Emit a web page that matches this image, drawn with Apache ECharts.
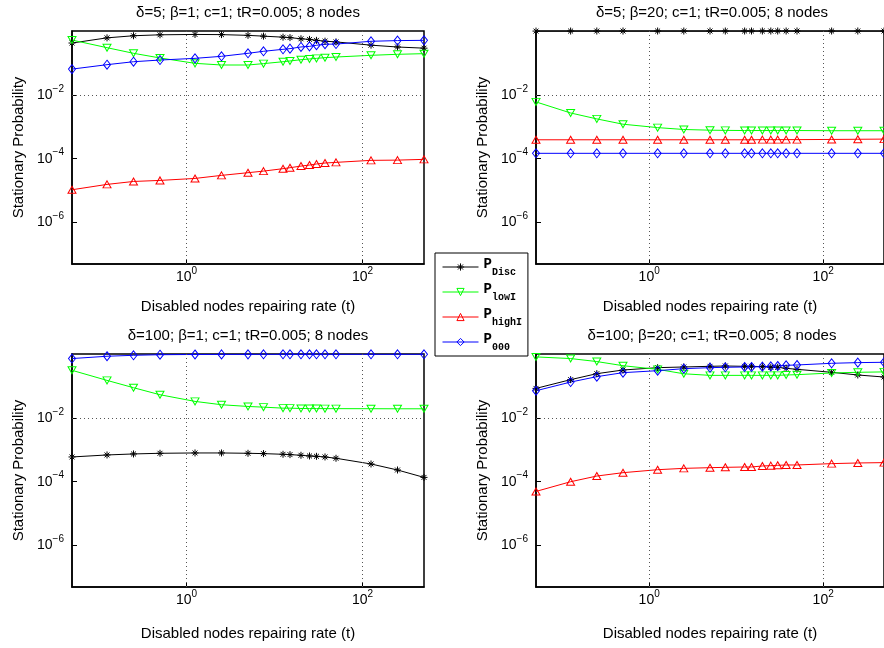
<!DOCTYPE html>
<html>
<head>
<meta charset="utf-8">
<script src="https://cdn.jsdelivr.net/npm/echarts@6/dist/echarts.min.js"></script>
<style>html,body{margin:0;padding:0;background:#fff}#chart{width:884px;height:648px}</style>
</head>
<body>
<div id="chart"></div>
<script>
// repairing rate t (x axis)
var tValues = [0.05, 0.125, 0.25, 0.5, 1.25, 2.5, 5, 7.5, 12.5, 15, 20, 25, 30, 37.5, 50, 125, 250, 500];

// delta=5, beta=1
var disc5b1 = [0.42, 0.61, 0.71, 0.76, 0.78, 0.77, 0.73, 0.69, 0.64, 0.62, 0.57, 0.545, 0.51, 0.48, 0.455, 0.36, 0.315, 0.29];
var low5b1 = [0.52, 0.30, 0.20, 0.143, 0.097, 0.086, 0.086, 0.095, 0.109, 0.115, 0.126, 0.133, 0.139, 0.146, 0.153, 0.173, 0.186, 0.195];
var high5b1 = [1.06e-5, 1.56e-5, 1.93e-5, 2.08e-5, 2.4e-5, 2.99e-5, 3.63e-5, 4.07e-5, 4.85e-5, 5.2e-5, 5.85e-5, 6.3e-5, 6.8e-5, 7.3e-5, 7.65e-5, 8.85e-5, 9.0e-5, 9.5e-5];
var z5b1 = [0.064, 0.088, 0.109, 0.123, 0.139, 0.161, 0.20, 0.231, 0.267, 0.28, 0.316, 0.33, 0.357, 0.384, 0.39, 0.476, 0.50, 0.51];

// delta=5, beta=20
var disc5b20 = [0.9935, 0.9967, 0.9978, 0.9984, 0.9987, 0.9988, 0.9989, 0.9989, 0.9989, 0.9989, 0.9989, 0.9989, 0.9989, 0.9989, 0.9989, 0.9989, 0.9989, 0.9989];
var low5b20 = [6.0e-3, 2.7e-3, 1.76e-3, 1.2e-3, 9.4e-4, 8.2e-4, 7.8e-4, 7.7e-4, 7.6e-4, 7.6e-4, 7.6e-4, 7.6e-4, 7.6e-4, 7.6e-4, 7.6e-4, 7.5e-4, 7.5e-4, 7.5e-4];
var high5b20 = [3.9e-4, 3.9e-4, 3.9e-4, 3.9e-4, 3.9e-4, 3.9e-4, 3.9e-4, 3.9e-4, 3.9e-4, 3.9e-4, 3.95e-4, 3.95e-4, 3.95e-4, 3.95e-4, 3.95e-4, 4.0e-4, 4.05e-4, 4.1e-4];
var z5b20 = [1.47e-4, 1.47e-4, 1.47e-4, 1.47e-4, 1.47e-4, 1.47e-4, 1.47e-4, 1.47e-4, 1.47e-4, 1.47e-4, 1.47e-4, 1.47e-4, 1.47e-4, 1.47e-4, 1.47e-4, 1.47e-4, 1.47e-4, 1.47e-4];

// delta=100, beta=1 (highI lies below the axis range)
var disc100b1 = [5.94e-4, 6.86e-4, 7.38e-4, 7.74e-4, 7.93e-4, 7.93e-4, 7.74e-4, 7.56e-4, 7.2e-4, 7.03e-4, 6.7e-4, 6.38e-4, 6.23e-4, 5.94e-4, 5.4e-4, 3.58e-4, 2.32e-4, 1.36e-4];
var low100b1 = [0.308, 0.149, 0.0878, 0.0529, 0.0327, 0.0257, 0.0227, 0.0216, 0.0201, 0.0201, 0.0196, 0.0195, 0.0195, 0.0194, 0.0194, 0.0193, 0.0192, 0.0192];
var z100b1 = [0.72, 0.85, 0.91, 0.95, 0.966, 0.973, 0.976, 0.977, 0.979, 0.979, 0.98, 0.98, 0.98, 0.98, 0.98, 0.98, 0.98, 0.98];

// delta=100, beta=20
var disc100b20 = [0.0836, 0.157, 0.242, 0.315, 0.373, 0.392, 0.411, 0.421, 0.411, 0.411, 0.402, 0.383, 0.383, 0.356, 0.331, 0.267, 0.22, 0.19];
var low100b20 = [0.81, 0.72, 0.58, 0.43, 0.33, 0.24, 0.214, 0.214, 0.214, 0.214, 0.214, 0.214, 0.214, 0.22, 0.225, 0.254, 0.267, 0.275];
var high100b20 = [4.94e-5, 9.95e-5, 1.5e-4, 1.91e-4, 2.37e-4, 2.61e-4, 2.74e-4, 2.81e-4, 2.88e-4, 2.88e-4, 3.1e-4, 3.17e-4, 3.25e-4, 3.33e-4, 3.33e-4, 3.67e-4, 3.85e-4, 3.95e-4];
var z100b20 = [0.0706, 0.132, 0.195, 0.26, 0.30, 0.347, 0.373, 0.383, 0.392, 0.392, 0.402, 0.411, 0.421, 0.443, 0.453, 0.511, 0.537, 0.55];

var panelTitles = ['δ=5; β=1; c=1; tR=0.005; 8 nodes', 'δ=5; β=20; c=1; tR=0.005; 8 nodes',
    'δ=100; β=1; c=1; tR=0.005; 8 nodes', 'δ=100; β=20; c=1; tR=0.005; 8 nodes'];
var xTicks = [1, 100];
var yTicks = [1e-6, 1e-4, 1e-2];
var seriesNames = ['Disc', 'lowI', 'highI', '000'];

var panels = [
    {Disc: disc5b1, lowI: low5b1, highI: high5b1, '000': z5b1},
    {Disc: disc5b20, lowI: low5b20, highI: high5b20, '000': z5b20},
    {Disc: disc100b1, lowI: low100b1, '000': z100b1},
    {Disc: disc100b20, lowI: low100b20, highI: high100b20, '000': z100b20}
];

var font = '"Liberation Sans", Arial, Helvetica, sans-serif';
var mono = '"Liberation Mono", "DejaVu Sans Mono", monospace';
var gridBoxes = [
    {left: 72, top: 31, width: 352, height: 233},
    {left: 536, top: 31, width: 352, height: 233},
    {left: 72, top: 354, width: 352, height: 233},
    {left: 536, top: 354, width: 352, height: 233}
];
var marks = {
    Disc: {color: '#000000', symbol: 'path://M5,0L5,10M0,5L10,5M1.5,1.5L8.5,8.5M1.5,8.5L8.5,1.5', size: [7, 7]},
    lowI: {color: '#00ff00', symbol: 'path://M0,0L10,0L5,8.66Z', size: [8, 7]},
    highI: {color: '#ff0000', symbol: 'triangle', size: [8, 7]},
    '000': {color: '#0000ff', symbol: 'diamond', size: [7, 9]}
};
var hollow = 'rgba(255,255,255,0)';

// 10^n tick labels
function powLabel(v) {
    var e = Math.round(Math.log(v) / Math.LN10);
    return '{b|10}{s|' + String(e).replace('-', '\u2212') + '}';
}
var powRich = {
    b: {fontSize: 14, lineHeight: 14, padding: [4, 0, 4, 0], fontFamily: font, color: '#000'},
    s: {fontSize: 10, lineHeight: 10, padding: [0, 0, 12, 0], fontFamily: font, color: '#000'}
};

var option = {
    animation: false,
    backgroundColor: '#fff',
    title: [],
    grid: [],
    xAxis: [],
    yAxis: [],
    series: [],
    legend: {
        left: 435, top: 253,
        orient: 'vertical',
        padding: [4, 6, 4, 7],
        itemGap: 5,
        itemWidth: 36, itemHeight: 9,
        borderColor: '#000', borderWidth: 1,
        backgroundColor: '#fff',
        lineStyle: {width: 1},
        data: seriesNames.map(function (n) {
            return {name: n, itemStyle: {color: hollow, borderColor: marks[n].color, borderWidth: 1}};
        }),
        formatter: function (name) { return '{p|P}{s|' + name + '}'; },
        textStyle: {
            rich: {
                p: {fontFamily: mono, fontWeight: 'bold', fontSize: 14, lineHeight: 14, padding: [0, 0, 6, 0], color: '#000'},
                s: {fontFamily: mono, fontWeight: 'bold', fontSize: 10, lineHeight: 10, padding: [10, 0, 0, 0], color: '#000'}
            }
        }
    }
};

panels.forEach(function (panel, i) {
    var g = gridBoxes[i];
    option.grid.push({left: g.left, top: g.top, width: g.width, height: g.height,
        show: true, borderColor: '#000', borderWidth: 1.5, backgroundColor: '#fff', containLabel: false});
    option.title.push({
        text: panelTitles[i], left: g.left + g.width / 2, top: i < 2 ? 5 : 328,
        textAlign: 'center', padding: 0,
        textStyle: {fontFamily: font, fontSize: 15, fontWeight: 'normal', color: '#000'}
    });
    option.xAxis.push({
        type: 'log', logBase: 10, gridIndex: i, min: 0.05, max: 500,
        axisLine: {show: true, lineStyle: {color: '#000', width: 1.5}},
        axisTick: {show: true, inside: true, length: 5, customValues: xTicks, lineStyle: {color: '#000'}},
        axisLabel: {customValues: xTicks, margin: 6, formatter: powLabel, rich: powRich},
        minorTick: {show: false},
        splitLine: {show: false},
        name: 'Disabled nodes repairing rate (t)', nameLocation: 'middle', nameGap: i < 2 ? 35 : 39,
        nameTextStyle: {fontFamily: font, fontSize: 15, color: '#000'}
    });
    option.yAxis.push({
        type: 'log', logBase: 10, gridIndex: i, min: 5e-8, max: 1,
        axisLine: {show: true, lineStyle: {color: '#000', width: 1.5}},
        axisTick: {show: true, inside: true, length: 5, customValues: yTicks, lineStyle: {color: '#000'}},
        axisLabel: {customValues: yTicks, margin: 8, formatter: powLabel, rich: powRich},
        minorTick: {show: false},
        splitLine: {show: false},
        name: 'Stationary Probability', nameLocation: 'middle', nameGap: 46,
        nameTextStyle: {fontFamily: font, fontSize: 15, color: '#000'}
    });
    var first = true;
    seriesNames.forEach(function (name) {
        if (!panel[name]) return;
        var m = marks[name];
        var s = {
            type: 'line', name: name, xAxisIndex: i, yAxisIndex: i,
            data: tValues.map(function (t, k) { return [t, panel[name][k]]; }),
            symbol: m.symbol, symbolSize: m.size, showSymbol: true,
            lineStyle: {color: m.color, width: 1},
            itemStyle: {color: hollow, borderColor: m.color, borderWidth: 1},
            emphasis: {disabled: true},
            clip: true
        };
        if (first) {
            // dotted grid lines at the labelled decades
            s.markLine = {
                silent: true, symbol: ['none', 'none'], label: {show: false},
                lineStyle: {color: '#555', type: [1, 3], width: 1},
                data: xTicks.map(function (v) { return {xAxis: v}; })
                    .concat(yTicks.map(function (v) { return {yAxis: v}; }))
            };
            first = false;
        }
        option.series.push(s);
    });
});

var chart = echarts.init(document.getElementById('chart'));
chart.setOption(option);
</script>
</body>
</html>
